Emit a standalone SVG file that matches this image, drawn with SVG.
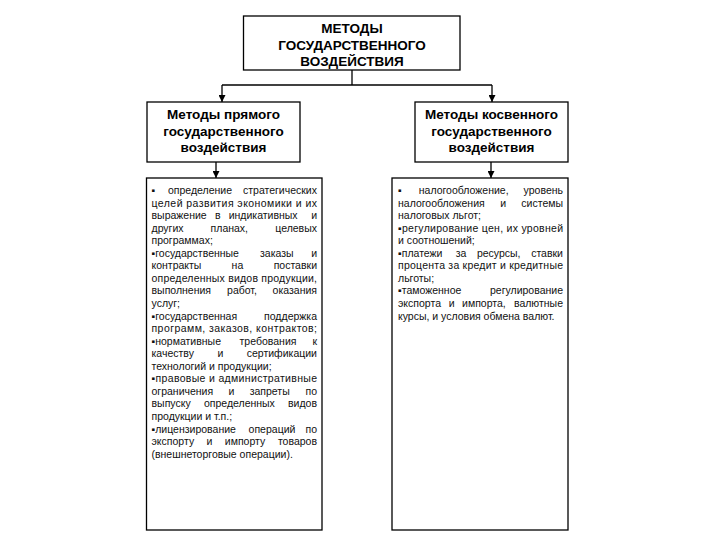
<svg xmlns="http://www.w3.org/2000/svg" width="720" height="540" viewBox="0 0 720 540">
<style>
.box{fill:#fff;stroke:#000;stroke-width:1.3}
.h{font-family:"Liberation Sans",Arial,sans-serif;font-weight:bold;font-size:13.5px;text-anchor:middle;fill:#000}
.t{font-family:"Liberation Sans",Arial,"DejaVu Sans",sans-serif;font-size:10.5px;fill:#111}
.m{text-anchor:middle}
.e{text-anchor:end}
.ln{stroke:#000;stroke-width:1.3;fill:none}
</style>
<defs>
<marker id="arr" markerUnits="userSpaceOnUse" markerWidth="7" markerHeight="7" refX="7" refY="3.5" orient="auto">
<path d="M0,0 L7,3.5 L0,7 z" fill="#000"/>
</marker>
</defs>
<rect width="720" height="540" fill="#fff"/>

<g id="connectors">
<polyline class="ln" points="352,70 352,85"/>
<polyline class="ln" points="222,85 492,85"/>
<line class="ln" x1="222" y1="85" x2="222" y2="102" marker-end="url(#arr)"/>
<line class="ln" x1="492" y1="85" x2="492" y2="102" marker-end="url(#arr)"/>
<line class="ln" x1="216" y1="162" x2="216" y2="178" marker-end="url(#arr)"/>
<line class="ln" x1="491" y1="162" x2="491" y2="178" marker-end="url(#arr)"/>
</g>

<g id="node-top">
<rect class="box" x="243.5" y="16" width="216.5" height="54"/>
<text class="h" x="352" y="33">МЕТОДЫ</text>
<text class="h" x="352" y="49.5">ГОСУДАРСТВЕННОГО</text>
<text class="h" x="352" y="66">ВОЗДЕЙСТВИЯ</text>
</g>

<g id="node-direct">
<rect class="box" x="147" y="102" width="153" height="60"/>
<text class="h" x="223.5" y="119">Методы прямого</text>
<text class="h" x="223.5" y="135.5">государственного</text>
<text class="h" x="223.5" y="152">воздействия</text>
</g>

<g id="node-indirect">
<rect class="box" x="415" y="102" width="153" height="60"/>
<text class="h" x="491.5" y="119">Методы косвенного</text>
<text class="h" x="491.5" y="135.5">государственного</text>
<text class="h" x="491.5" y="152">воздействия</text>
</g>

<g id="node-direct-list">
<rect class="box" x="146.5" y="178" width="175.5" height="352"/>
<text class="t" x="151.5" y="194">▪</text><text class="t m" x="200" y="194">определение</text><text class="t e" x="317" y="194">стратегических</text>
<text class="t" x="151.5" y="206.6" textLength="165.5" lengthAdjust="spacing">целей развития экономики и их</text>
<text class="t" x="151.5" y="219.1">выражение</text><text class="t" x="214.9" y="219.1">в</text><text class="t" x="228.7" y="219.1">индикативных</text><text class="t e" x="317" y="219.1">и</text>
<text class="t" x="151.5" y="231.7">других</text><text class="t m" x="229.3" y="231.7">планах,</text><text class="t e" x="317" y="231.7">целевых</text>
<text class="t" x="151.5" y="244.2">программах;</text>
<text class="t" x="151.5" y="256.8">▪государственные</text><text class="t m" x="276.8" y="256.8">заказы</text><text class="t e" x="317" y="256.8">и</text>
<text class="t" x="151.5" y="269.3">контракты</text><text class="t m" x="237.4" y="269.3">на</text><text class="t e" x="317" y="269.3">поставки</text>
<text class="t" x="151.5" y="281.9" textLength="165.5" lengthAdjust="spacing">определенных видов продукции,</text>
<text class="t" x="151.5" y="294.4">выполнения</text><text class="t m" x="242" y="294.4">работ,</text><text class="t e" x="317" y="294.4">оказания</text>
<text class="t" x="151.5" y="307">услуг;</text>
<text class="t" x="151.5" y="319.5">▪государственная</text><text class="t e" x="317" y="319.5">поддержка</text>
<text class="t" x="151.5" y="332.1" textLength="165.5" lengthAdjust="spacing">программ, заказов, контрактов;</text>
<text class="t" x="151.5" y="344.6">▪нормативные</text><text class="t m" x="268" y="344.6">требования</text><text class="t e" x="317" y="344.6">к</text>
<text class="t" x="151.5" y="357.2">качеству</text><text class="t m" x="220.4" y="357.2">и</text><text class="t e" x="317" y="357.2">сертификации</text>
<text class="t" x="151.5" y="369.7">технологий и продукции;</text>
<text class="t" x="151.5" y="382.3" textLength="165.5" lengthAdjust="spacing">▪правовые и административные</text>
<text class="t" x="151.5" y="394.8">ограничения</text><text class="t" x="228.5" y="394.8">и</text><text class="t" x="249.7" y="394.8">запреты</text><text class="t e" x="317" y="394.8">по</text>
<text class="t" x="151.5" y="407.4">выпуску</text><text class="t m" x="239.4" y="407.4">определенных</text><text class="t e" x="317" y="407.4">видов</text>
<text class="t" x="151.5" y="419.9">продукции и т.п.;</text>
<text class="t" x="151.5" y="432.5">▪лицензирование</text><text class="t m" x="272" y="432.5">операций</text><text class="t e" x="317" y="432.5">по</text>
<text class="t" x="151.5" y="445">экспорту</text><text class="t" x="206.5" y="445">и</text><text class="t" x="224.8" y="445">импорту</text><text class="t e" x="317" y="445">товаров</text>
<text class="t" x="151.5" y="457.6">(внешнеторговые операции).</text>
</g>

<g id="node-indirect-list">
<rect class="box" x="392" y="178" width="176" height="352"/>
<text class="t" x="398" y="194">▪</text><text class="t m" x="463.7" y="194">налогообложение,</text><text class="t e" x="563" y="194">уровень</text>
<text class="t" x="398" y="206.6">налогообложения</text><text class="t m" x="503.3" y="206.6">и</text><text class="t e" x="563" y="206.6">системы</text>
<text class="t" x="398" y="219.1">налоговых льгот;</text>
<text class="t" x="398" y="231.7" textLength="165" lengthAdjust="spacing">▪регулирование цен, их уровней</text>
<text class="t" x="398" y="244.2">и соотношений;</text>
<text class="t" x="398" y="256.8">▪платежи</text><text class="t" x="455.7" y="256.8">за</text><text class="t" x="476.9" y="256.8">ресурсы,</text><text class="t e" x="563" y="256.8">ставки</text>
<text class="t" x="398" y="269.3" textLength="165" lengthAdjust="spacing">процента за кредит и кредитные</text>
<text class="t" x="398" y="281.9">льготы;</text>
<text class="t" x="398" y="294.4">▪таможенное</text><text class="t e" x="563" y="294.4">регулирование</text>
<text class="t" x="398" y="307">экспорта</text><text class="t" x="448.7" y="307">и</text><text class="t" x="462.1" y="307">импорта,</text><text class="t e" x="563" y="307">валютные</text>
<text class="t" x="398" y="319.5">курсы, и условия обмена валют.</text>
</g>
</svg>
